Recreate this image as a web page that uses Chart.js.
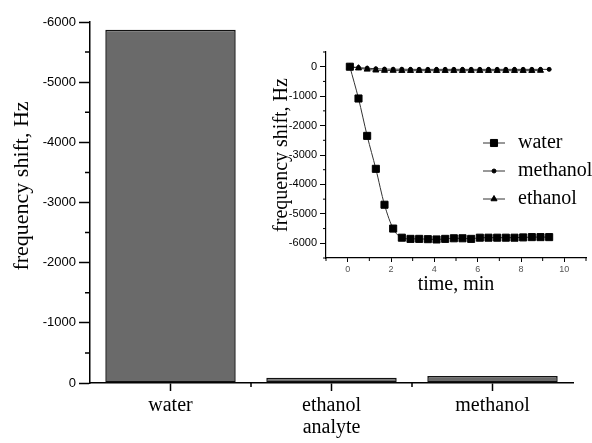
<!DOCTYPE html>
<html>
<head>
<meta charset="utf-8">
<title>frequency shift</title>
<script src="https://cdn.jsdelivr.net/npm/chart.js@4.4.1/dist/chart.umd.min.js"></script>
<style>
  html, body { margin: 0; padding: 0; background: #fff; }
  #wrap { position: relative; width: 592px; height: 443px; }
  #mainChart { position: absolute; left: 0; top: 0; }
  #insetChart { position: absolute; left: 250px; top: 30px; }
</style>
</head>
<body>
<div id="wrap">
  <canvas id="mainChart" width="592" height="443"></canvas>
  <canvas id="insetChart" width="342" height="270"></canvas>
</div>
<script>
// === Data ===
const analytes = ['water', 'ethanol', 'methanol'];
const totalShift = [-5870, -88, -116];
const mainYTicks = [0, -1000, -2000, -3000, -4000, -5000, -6000];

const times = [0.1, 0.5, 0.9, 1.3, 1.7, 2.1, 2.5, 2.9, 3.3, 3.7, 4.1, 4.5,
               4.9, 5.3, 5.7, 6.1, 6.5, 6.9, 7.3, 7.7, 8.1, 8.5, 8.9, 9.3];
const waterShift = [0, -1080, -2350, -3470, -4690, -5500, -5810, -5850, -5850, -5860, -5870, -5850,
                    -5830, -5830, -5850, -5810, -5810, -5810, -5810, -5810, -5800, -5790, -5790, -5790];
const methanolShift = [0, -30, -50, -70, -80, -85, -85, -90, -90, -90, -90, -90,
                       -90, -90, -90, -90, -90, -90, -90, -90, -90, -90, -90, -90];
const ethanolShift = [0, -50, -90, -120, -130, -130, -135, -135, -135, -135, -135, -135,
                      -135, -135, -135, -135, -135, -135, -135, -135, -135, -135, -130];
const insetYTicks = [0, -1000, -2000, -3000, -4000, -5000, -6000];
const insetXTicks = [0, 2, 4, 6, 8, 10];

const SERIF = '"Liberation Serif", "Times New Roman", serif';
const SANS = '"Liberation Sans", Arial, sans-serif';

// === Plugins ===
// short extra ticks between the labelled ones
const minorTicks = {
  id: 'minorTicks',
  afterDraw(chart, args, opts) {
    const ctx = chart.ctx;
    ctx.save();
    ctx.strokeStyle = '#000';
    ctx.lineWidth = opts.width || 1;
    (opts.axes || []).forEach(a => {
      const scale = chart.scales[a.id];
      ctx.beginPath();
      a.values.forEach(v => {
        const p = scale.getPixelForValue(v);
        if (scale.isHorizontal()) {
          ctx.moveTo(p, scale.top);
          ctx.lineTo(p, scale.top + a.length);
        } else {
          ctx.moveTo(scale.right, p);
          ctx.lineTo(scale.right - a.length, p);
        }
      });
      ctx.stroke();
    });
    ctx.restore();
  }
};

// legend drawn inside the plot, line + marker like the original
const insetLegend = {
  id: 'insetLegend',
  afterDraw(chart, args, opts) {
    const { ctx, chartArea } = chart;
    ctx.save();
    ctx.font = opts.font;
    ctx.textBaseline = 'middle';
    ctx.textAlign = 'left';
    chart.data.datasets.forEach((ds, i) => {
      const x = chartArea.left + opts.left;
      const y = chartArea.top + opts.top + i * opts.rowGap;
      ctx.strokeStyle = ds.borderColor;
      ctx.lineWidth = ds.borderWidth;
      ctx.beginPath();
      ctx.moveTo(x, y);
      ctx.lineTo(x + opts.lineLength, y);
      ctx.stroke();
      ctx.fillStyle = ds.pointBackgroundColor;
      ctx.strokeStyle = ds.pointBorderColor;
      Chart.helpers.drawPoint(ctx, { pointStyle: ds.pointStyle, radius: ds.pointRadius, borderWidth: 1 },
        x + opts.lineLength / 2, y);
      ctx.fillStyle = '#000';
      ctx.fillText(ds.label, x + opts.lineLength + opts.gap, y);
    });
    ctx.restore();
  }
};

// === Main bar chart ===
const mainChart = new Chart(document.getElementById('mainChart'), {
  type: 'bar',
  data: {
    labels: analytes,
    datasets: [{
      data: totalShift,
      backgroundColor: '#6a6a6a',
      borderColor: '#111',
      borderWidth: 1.5,
      borderSkipped: false,
      barPercentage: 0.81,
      categoryPercentage: 1
    }]
  },
  options: {
    responsive: false,
    animation: false,
    devicePixelRatio: 1,
    layout: { padding: { top: 22, right: 19, left: 0, bottom: 0 } },
    plugins: {
      legend: { display: false },
      tooltip: { enabled: false },
      minorTicks: {
        width: 1.5,
        axes: [
          { id: 'y', length: 5, values: [-500, -1500, -2500, -3500, -4500, -5500] },
          { id: 'x', length: 4, values: [0.5, 1.5] }
        ]
      }
    },
    scales: {
      x: {
        afterFit: s => { s.height = 60; },
        border: { display: true, color: '#000', width: 1.5 },
        grid: { offset: false, drawOnChartArea: false, tickLength: 8, tickColor: '#000', tickWidth: 1.5 },
        ticks: { color: '#000', font: { family: SERIF, size: 20 }, padding: 3, maxRotation: 0 },
        title: { display: true, text: 'analyte', color: '#000', font: { family: SERIF, size: 20 }, padding: { top: 0, bottom: 3 } }
      },
      y: {
        min: -6000,
        max: 0,
        reverse: true,
        afterBuildTicks: s => { s.ticks = mainYTicks.map(v => ({ value: v })); },
        afterFit: s => { s.width = 90; },
        border: { display: true, color: '#000', width: 1.5 },
        grid: { drawOnChartArea: false, tickLength: 11, tickColor: '#000', tickWidth: 1.5 },
        ticks: { color: '#000', font: { family: SANS, size: 13 }, padding: 3, callback: v => String(v) },
        // leading spaces nudge the title up a little, as in the original
        title: { display: true, text: '      frequency shift, Hz', color: '#000', font: { family: SERIF, size: 22 }, padding: { top: 9, bottom: 0 } }
      }
    }
  },
  plugins: [minorTicks]
});

// === Inset: shift vs time ===
const toPoints = (ys) => ys.map((y, i) => ({ x: times[i], y: y }));

const insetChart = new Chart(document.getElementById('insetChart'), {
  type: 'line',
  data: {
    datasets: [
      {
        label: 'water',
        data: toPoints(waterShift),
        borderColor: '#333',
        borderWidth: 1,
        pointStyle: 'rect',
        pointRadius: 5,
        pointBackgroundColor: '#000',
        pointBorderColor: '#000',
        cubicInterpolationMode: 'monotone'
      },
      {
        label: 'methanol',
        data: toPoints(methanolShift),
        borderColor: '#333',
        borderWidth: 1,
        pointStyle: 'circle',
        pointRadius: 2,
        pointBackgroundColor: '#000',
        pointBorderColor: '#000'
      },
      {
        label: 'ethanol',
        data: toPoints(ethanolShift),
        borderColor: '#333',
        borderWidth: 1,
        pointStyle: 'triangle',
        pointRadius: 3.5,
        pointBackgroundColor: '#000',
        pointBorderColor: '#000'
      }
    ]
  },
  options: {
    responsive: false,
    animation: false,
    devicePixelRatio: 1,
    layout: { padding: { top: 22, right: 4, left: 0, bottom: 0 } },
    plugins: {
      legend: { display: false },
      tooltip: { enabled: false },
      insetLegend: { left: 157, top: 91, rowGap: 28, lineLength: 22, gap: 13, font: '20px ' + SERIF },
      minorTicks: {
        width: 1,
        axes: [
          { id: 'y', length: 3, values: [-6500, -5500, -4500, -3500, -2500, -1500, -500, 500] },
          { id: 'x', length: 3, values: [-1, 1, 3, 5, 7, 9, 11] }
        ]
      }
    },
    scales: {
      x: {
        type: 'linear',
        min: -1,
        max: 11,
        afterBuildTicks: s => { s.ticks = insetXTicks.map(v => ({ value: v })); },
        afterFit: s => { s.height = 42; },
        border: { display: true, color: '#000', width: 1.2 },
        grid: { drawOnChartArea: false, tickLength: 4, tickColor: '#000', tickWidth: 1 },
        ticks: { color: '#555', font: { family: SANS, size: 9 }, padding: 2, maxRotation: 0 },
        title: { display: true, text: 'time, min', color: '#000', font: { family: SERIF, size: 20 }, padding: { top: 0, bottom: 3 } }
      },
      y: {
        min: -6500,
        max: 500,
        afterBuildTicks: s => { s.ticks = insetYTicks.map(v => ({ value: v })); },
        afterFit: s => { s.width = 76; },
        border: { display: true, color: '#000', width: 1.2 },
        grid: { drawOnChartArea: false, tickLength: 6, tickColor: '#000', tickWidth: 1 },
        ticks: { color: '#000', font: { family: SANS, size: 11 }, padding: 3, callback: v => String(v) },
        title: { display: true, text: 'frequency shift, Hz', color: '#000', font: { family: SERIF, size: 20 }, padding: { top: 20, bottom: 0 } }
      }
    }
  },
  plugins: [minorTicks, insetLegend]
});
</script>
</body>
</html>
